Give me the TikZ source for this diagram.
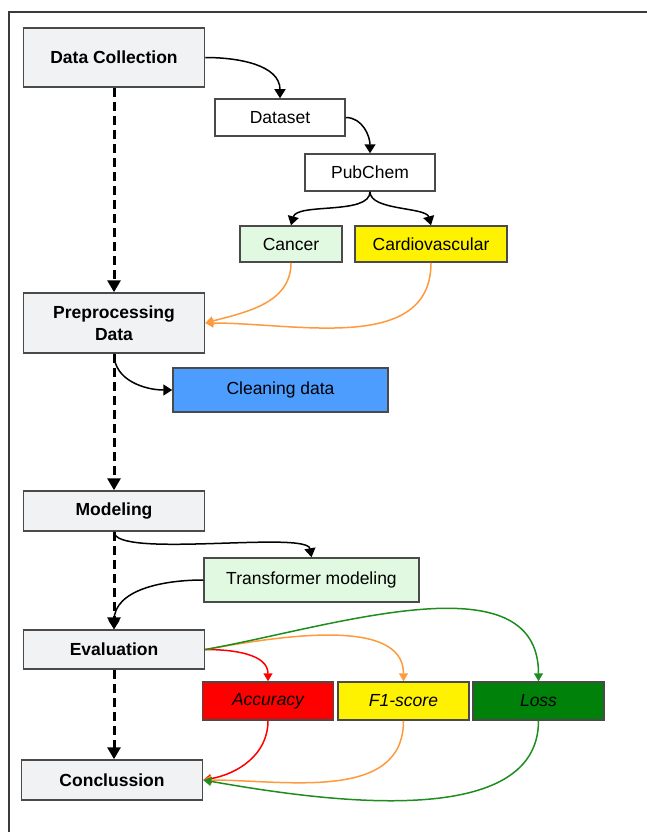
\documentclass[tikz,border=0pt]{standalone}
\usepackage{fontspec}
\setmainfont{Liberation Sans}
\usetikzlibrary{arrows.meta}

\definecolor{boxgray}{HTML}{F1F2F4}
\definecolor{edgegray}{HTML}{4A4A4A}
\definecolor{framegray}{HTML}{3A3A3A}
\definecolor{mintgreen}{HTML}{E1F8E1}
\definecolor{skyblue}{HTML}{4D9DFF}
\definecolor{orangeline}{HTML}{FF9A3C}
\definecolor{lossgreen}{HTML}{00820A}
\definecolor{greenline}{HTML}{1E8C1E}

\begin{document}
\begin{tikzpicture}[x=1pt, y=-1pt, font=\fontsize{17.5}{22}\selectfont,
  mainbox/.style={draw=edgegray, line width=1.5pt, fill=boxgray, minimum width=181pt,
    inner sep=0pt, align=center, font=\fontsize{17.5}{22}\selectfont\bfseries},
  subbox/.style={draw=edgegray, line width=1.5pt, minimum height=37pt, inner sep=0pt},
  metric/.style={subbox, minimum width=131pt, minimum height=38pt, font=\fontsize{17.5}{22}\selectfont\itshape},
  flow/.style={-{Triangle[length=12pt,width=13pt]}, line width=3pt, dash pattern=on 9pt off 5pt},
  link/.style={-{Triangle[length=9pt,width=11pt]}, line width=1.5pt},
  tint/.style={-{Triangle[length=8pt,width=9pt]}, line width=1.5pt, draw=#1}]
  \useasboundingbox (0,0) rectangle (647,832);
  \draw[line width=2pt, framegray] (9,832) -- (9,12) -- (647,12);

  \node[mainbox, minimum height=59pt] (dc) at (114,57.5) {Data Collection};
  \node[subbox, fill=white, minimum width=130pt] (ds) at (280,117.5) {Dataset};
  \node[subbox, fill=white, minimum width=130pt] (pc) at (370,172.5) {PubChem};
  \node[subbox, fill=mintgreen, minimum width=102pt, minimum height=36pt] (ca) at (291,244) {Cancer};
  \node[subbox, fill=yellow, minimum width=152pt, minimum height=36pt] (cv) at (431,244) {Cardiovascular};
  \node[mainbox, minimum height=60pt] (pp) at (114,323) {Preprocessing\\Data};
  \node[subbox, fill=skyblue, minimum width=215pt, minimum height=44pt] (cl) at (280.5,390) {Cleaning data};
  \node[mainbox, minimum height=40pt] (md) at (114,511) {Modeling};
  \node[subbox, fill=mintgreen, minimum width=215pt, minimum height=44pt] (tm) at (311.5,580) {Transformer modeling};
  \node[mainbox, minimum height=39pt] (ev) at (114,649.5) {Evaluation};
  \node[metric, fill=red] (ac) at (268,701) {Accuracy};
  \node[metric, fill=yellow] (f1) at (403.5,701) {F1-score};
  \node[metric, fill=lossgreen] (ls) at (538.5,701) {Loss};
  \node[mainbox, minimum height=40pt] (cc) at (112,780) {Conclussion};

  \draw[flow] (dc) -- (pp);
  \draw[flow] (pp) -- (md);
  \draw[flow] (md) -- (ev);
  \draw[flow] (ev) -- (cc.north -| ev);

  \draw[link] (dc.east) to[out=0, in=90] (ds.north);
  \draw[link] (ds.east) to[out=0, in=90] (pc.north);
  \draw[link] (pc.south) to[out=-90, in=75, looseness=0.7] (ca.north);
  \draw[link] (pc.south) to[out=-90, in=105, looseness=0.7] (cv.north);
  \draw[tint=orangeline] (ca.south) to[out=-90, in=15] (pp.east);
  \draw[tint=orangeline] (cv.south) to[out=-90, in=0] (pp.east);
  \draw[link] (pp.south) to[out=-90, in=180] (cl.west);
  \draw[link] (md.south) to[out=-90, in=100, looseness=0.35] (tm.north);
  \draw[link] (tm.west) to[out=180, in=90] (ev.north);

  \draw[tint=red] (ev.east) to[out=0, in=90] (ac.north);
  \draw[tint=orangeline] (ev.east) to[out=10, in=90, looseness=0.85] (f1.north);
  \draw[tint=greenline] (ev.east) to[out=10, in=90, looseness=0.95] (ls.north);
  \draw[tint=red] (ac.south) to[out=-90, in=10] (cc.east);
  \draw[tint=orangeline] (f1.south) to[out=-90, in=0] (cc.east);
  \draw[tint=greenline] (ls.south) to[out=-90, in=-10, looseness=0.85] (cc.east);
\end{tikzpicture}
\end{document}
